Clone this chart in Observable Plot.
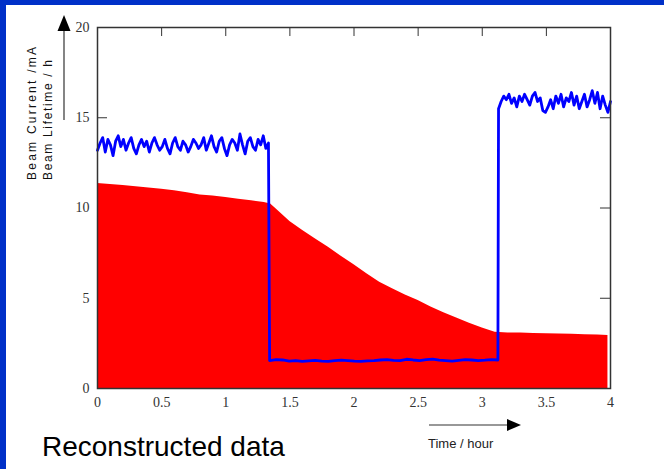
<!DOCTYPE html>
<html>
<head>
<meta charset="utf-8">
<script src="https://cdn.jsdelivr.net/npm/d3@7"></script>
<script src="https://cdn.jsdelivr.net/npm/@observablehq/plot@0.6"></script>
<style>
  html, body { margin: 0; padding: 0; background: #fff; }
  #wrap { position: relative; width: 664px; height: 469px; overflow: hidden; background: #fff; }
  #wrap svg { position: absolute; left: 0; top: 0; }
  .bl { position: absolute; background: #0030c8; }
</style>
</head>
<body>
<div id="wrap"></div>
<script>
// Beam current (red area), mA, sampled vs time (hour)
const currentTime = [0, 0.1, 0.2, 0.3, 0.4, 0.5, 0.6, 0.7, 0.8, 0.9, 1.0, 1.1, 1.2, 1.3, 1.35,
  1.4, 1.5, 1.6, 1.7, 1.8, 1.9, 2.0, 2.1, 2.2, 2.3, 2.4, 2.5, 2.6, 2.7, 2.8, 2.9, 3.0, 3.1,
  3.2, 3.3, 3.4, 3.5, 3.6, 3.7, 3.8, 3.9, 3.98];
const beamCurrent = [11.36, 11.30, 11.24, 11.18, 11.11, 11.04, 10.95, 10.85, 10.72, 10.66, 10.58, 10.49, 10.40, 10.30, 10.22,
  9.90, 9.25, 8.75, 8.28, 7.82, 7.32, 6.85, 6.36, 5.88, 5.52, 5.18, 4.87, 4.52, 4.20, 3.90, 3.62, 3.35, 3.12,
  3.08, 3.07, 3.05, 3.03, 3.02, 3.01, 2.98, 2.96, 2.94];

// Beam lifetime (blue line), h, three recorded segments
const lifetimeA = [13.2, 13.6, 13.9, 13.1, 13.8, 13.5, 12.9, 13.7, 14.0, 13.4, 13.8, 13.2, 13.6, 13.9, 13.3, 13.0,
  13.5, 13.8, 13.4, 13.7, 13.1, 13.6, 13.9, 13.5, 13.2, 13.4, 13.8, 13.3, 13.0, 13.6, 13.9, 13.4, 13.2, 13.7,
  13.5, 13.1, 13.4, 13.8, 13.6, 13.3, 13.5, 13.9, 13.2, 13.6, 14.0, 13.4, 13.1, 13.7, 13.9, 13.3, 12.9, 13.5,
  13.8, 13.6, 13.2, 14.1, 13.5, 13.0, 13.7, 13.9, 13.4, 13.2, 13.8, 13.5, 14.0, 13.3, 13.6];
const lifetimeATime = [0, 1.333];
const lifetimeB = [1.55, 1.60, 1.58, 1.52, 1.55, 1.50, 1.53, 1.56, 1.52, 1.50, 1.54, 1.57, 1.55, 1.52, 1.50, 1.53,
  1.55, 1.58, 1.60, 1.56, 1.54, 1.62, 1.58, 1.55, 1.60, 1.63, 1.57, 1.55, 1.52, 1.56, 1.60, 1.58, 1.55, 1.57, 1.60, 1.58];
const lifetimeBTime = [1.342, 3.122];
const lifetimeC = [15.5, 15.9, 16.2, 16.0, 16.3, 15.8, 16.1, 15.6, 16.2, 15.9, 16.3, 16.0, 15.7, 16.2, 16.4, 15.9,
  16.1, 15.4, 15.3, 15.6, 16.0, 15.5, 16.2, 15.8, 16.3, 15.6, 16.1, 15.9, 16.4, 15.7, 16.2, 15.5, 15.9, 16.3,
  15.6, 16.0, 16.5, 15.8, 16.4, 15.5, 16.2, 15.7, 15.3, 15.9];
const lifetimeCTime = [3.127, 4.0];

const xTicks = [0, 0.5, 1, 1.5, 2, 2.5, 3, 3.5, 4];
const yTicks = [0, 5, 10, 15, 20];

const currentRows = currentTime.map((t, i) => ({t, v: beamCurrent[i]}));
function seg(vals, [t0, t1]) {
  return vals.map((v, i) => ({t: t0 + (t1 - t0) * i / (vals.length - 1), v}));
}
const lifeRows = [...seg(lifetimeA, lifetimeATime), ...seg(lifetimeB, lifetimeBTime), ...seg(lifetimeC, lifetimeCTime)];

const ink = "#333";
const chart = Plot.plot({
  width: 664, height: 469,
  marginLeft: 97, marginRight: 54, marginTop: 27, marginBottom: 81,
  x: {domain: [0, 4]},
  y: {domain: [0, 20]},
  style: {background: "transparent", fontFamily: "'Liberation Serif', serif", fontSize: "14px", color: ink, overflow: "visible"},
  marks: [
    Plot.ruleX(xTicks, {x: d => d, y1: 0, y2: 0.5, stroke: ink}),
    Plot.ruleY(yTicks, {y: d => d, x1: 0, x2: 0.078, stroke: ink}),
    Plot.areaY(currentRows, {x: "t", y: "v", fill: "#ff0000"}),
    Plot.line(lifeRows, {x: "t", y: "v", stroke: "#0000ff", strokeWidth: 2.8, strokeLinejoin: "round"}),
    Plot.ruleX(xTicks, {x: d => d, y1: 19.5, y2: 20, stroke: ink}),
    Plot.ruleY(yTicks, {y: d => d, x1: 3.922, x2: 4, stroke: ink}),
    Plot.frame({stroke: ink, strokeWidth: 1.5}),
    Plot.axisX({ticks: xTicks, tickSize: 0, tickPadding: 9, tickFormat: d => String(d), label: null}),
    Plot.axisY({ticks: yTicks, tickSize: 0, tickPadding: 8, tickFormat: d => String(d), label: null})
  ]
});

const wrap = document.getElementById("wrap");
wrap.appendChild(chart);

// decorative annotations (axis titles, arrows, caption)
const svg = d3.select(chart);
const sans = "'Liberation Sans', Arial, sans-serif";
const g = svg.append("g").attr("fill", "#111").attr("font-family", sans).attr("text-anchor", "start");

// y-axis titles, rotated
g.append("text").attr("transform", "translate(36,180) rotate(-90)")
  .attr("font-size", 12).attr("textLength", 133).attr("lengthAdjust", "spacing")
  .text("Beam Current /mA");
g.append("text").attr("transform", "translate(52,180) rotate(-90)")
  .attr("font-size", 12).attr("textLength", 120).attr("lengthAdjust", "spacing")
  .text("Beam Lifetime / h");

// y arrow
g.append("line").attr("x1", 64).attr("x2", 64).attr("y1", 120).attr("y2", 30).attr("stroke", ink).attr("stroke-width", 1.2);
g.append("path").attr("d", "M64,15 L57.5,31 L70.5,31 Z").attr("fill", "#000");

// x arrow
g.append("line").attr("x1", 429).attr("x2", 508).attr("y1", 425).attr("y2", 425).attr("stroke", ink).attr("stroke-width", 1.2);
g.append("path").attr("d", "M521,425 L507,419 L507,431 Z").attr("fill", "#000");

// x title
g.append("text").attr("x", 428).attr("y", 448).attr("font-size", 13).attr("fill", "#222").text("Time / hour");

// caption
g.append("text").attr("x", 42).attr("y", 456).attr("font-size", 28).attr("fill", "#000").text("Reconstructed data");

// blue slide borders
const borderLeft = document.createElement("div");
borderLeft.className = "bl"; borderLeft.style.cssText = "left:0;top:0;width:6px;height:469px;";
const borderTop = document.createElement("div");
borderTop.className = "bl"; borderTop.style.cssText = "left:0;top:0;width:664px;height:5px;";
wrap.appendChild(borderLeft); wrap.appendChild(borderTop);
</script>
</body>
</html>
